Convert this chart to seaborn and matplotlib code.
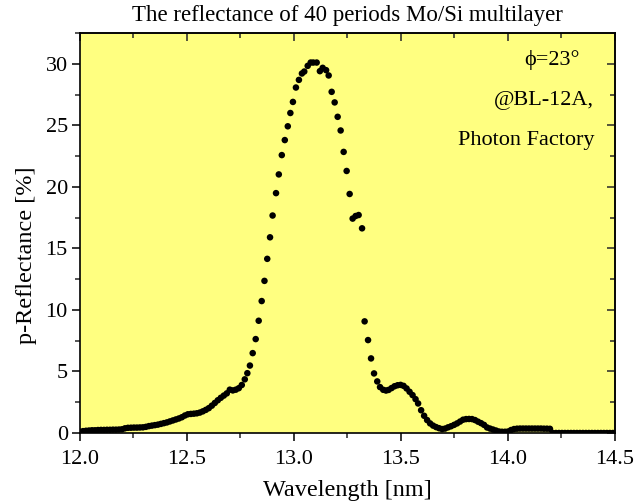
import matplotlib
matplotlib.use("Agg")
import matplotlib.pyplot as plt
import seaborn as sns
import pandas as pd
from matplotlib.ticker import MultipleLocator, FormatStrFormatter

# ---- data ----
wavelength = [
    12.000, 12.014, 12.028, 12.042, 12.056, 12.070, 12.084, 12.098, 12.112, 12.126,
    12.140, 12.154, 12.168, 12.182, 12.196, 12.210, 12.224, 12.238, 12.252, 12.266,
    12.280, 12.294, 12.308, 12.322, 12.336, 12.350, 12.364, 12.378, 12.392, 12.406,
    12.420, 12.434, 12.448, 12.462, 12.476, 12.490, 12.504, 12.518, 12.532, 12.546,
    12.560, 12.574, 12.588, 12.602, 12.616, 12.630, 12.644, 12.658, 12.672, 12.686,
    12.700, 12.714, 12.728, 12.742, 12.756, 12.770, 12.782, 12.794, 12.807, 12.821,
    12.835, 12.849, 12.862, 12.875,
    12.888, 12.900, 12.916, 12.929, 12.943, 12.957, 12.971, 12.983, 12.995, 13.009,
    13.023, 13.037, 13.048, 13.064, 13.078, 13.090, 13.106, 13.121, 13.134, 13.150,
    13.162, 13.176, 13.190, 13.204, 13.218, 13.232, 13.246, 13.260, 13.274, 13.288,
    13.302, 13.318,
    13.330, 13.346, 13.360, 13.374, 13.389, 13.402, 13.417, 13.430, 13.442, 13.456,
    13.470, 13.484, 13.498, 13.512, 13.526, 13.540, 13.554, 13.568, 13.580, 13.594,
    13.608, 13.622, 13.636, 13.650, 13.664, 13.678, 13.692, 13.706, 13.720, 13.734,
    13.748, 13.762, 13.776, 13.790, 13.804, 13.818, 13.832, 13.846, 13.860, 13.874,
    13.888, 13.902, 13.916, 13.930, 13.944, 13.958, 13.972, 13.986, 14.000, 14.014,
    14.028, 14.042, 14.056, 14.070, 14.084, 14.098, 14.112, 14.126, 14.140, 14.154,
    14.168, 14.182, 14.196,
    14.210, 14.224, 14.238, 14.252, 14.266, 14.280, 14.294, 14.308, 14.322, 14.336,
    14.350, 14.364, 14.378, 14.392, 14.406, 14.420, 14.434, 14.448, 14.462, 14.476,
    14.490,
]
reflectance = [
    0.10, 0.15, 0.18, 0.20, 0.22, 0.22, 0.24, 0.25, 0.25, 0.26,
    0.26, 0.27, 0.27, 0.28, 0.30, 0.38, 0.42, 0.43, 0.44, 0.44,
    0.45, 0.46, 0.50, 0.56, 0.60, 0.64, 0.68, 0.74, 0.80, 0.86,
    0.94, 1.02, 1.10, 1.18, 1.28, 1.42, 1.52, 1.55, 1.57, 1.60,
    1.66, 1.76, 1.88, 2.02, 2.22, 2.44, 2.66, 2.86, 3.04, 3.22,
    3.52, 3.46, 3.52, 3.64, 3.90, 4.36, 4.86, 5.48, 6.49, 7.63,
    9.12, 10.72, 12.36, 14.15,
    15.90, 17.67, 19.49, 21.01, 22.58, 23.80, 24.92, 26.00, 26.90, 28.07,
    28.69, 29.21, 29.37, 29.83, 30.10, 30.10, 30.10, 29.40, 29.67, 29.48,
    29.05, 27.72, 26.86, 25.69, 24.58, 22.84, 21.29, 19.42, 17.42, 17.63,
    17.71, 16.63,
    9.07, 7.55, 6.06, 4.84, 4.19, 3.73, 3.51, 3.45, 3.50, 3.65,
    3.80, 3.88, 3.91, 3.83, 3.62, 3.35, 3.08, 2.75, 2.40, 1.85,
    1.40, 1.05, 0.78, 0.60, 0.48, 0.39, 0.32, 0.36, 0.46, 0.55,
    0.66, 0.78, 0.93, 1.08, 1.13, 1.14, 1.13, 1.05, 0.92, 0.80,
    0.66, 0.45, 0.36, 0.28, 0.20, 0.12, 0.10, 0.10, 0.12, 0.24,
    0.32, 0.35, 0.36, 0.36, 0.36, 0.36, 0.36, 0.36, 0.36, 0.36,
    0.35, 0.35, 0.34,
    0.00, 0.00, 0.00, 0.00, 0.00, 0.00, 0.00, 0.00, 0.00, 0.00,
    0.00, 0.00, 0.00, 0.00, 0.00, 0.00, 0.00, 0.00, 0.00, 0.00,
    0.00,
]
title = "The reflectance of 40 periods Mo/Si multilayer"
xlabel = "Wavelength [nm]"
ylabel = "p-Reflectance [%]"
notes = ["\u03d5=23\u00b0", "@BL-12A,", "Photon Factory"]

df = pd.DataFrame({"Wavelength": wavelength, "Reflectance": reflectance})

sns.set_theme(style="ticks")
plt.rcParams["font.family"] = ["Liberation Serif", "DejaVu Serif"]

fig = plt.figure(figsize=(6.36, 5.03), dpi=100)
fig.patch.set_facecolor("white")
ax = fig.add_axes([80 / 636, 1 - 433 / 503, 535 / 636, 400 / 503])
ax.set_facecolor("#FFFF80")

sns.scatterplot(data=df, x="Wavelength", y="Reflectance", ax=ax,
                color="black", s=22, edgecolor="none", linewidth=0, legend=False)

ax.set_xlim(12.0, 14.5)
ax.set_ylim(0, 32.5)

ax.xaxis.set_major_locator(MultipleLocator(0.5))
ax.xaxis.set_minor_locator(MultipleLocator(0.25))
ax.xaxis.set_major_formatter(FormatStrFormatter("%.1f"))
ax.yaxis.set_major_locator(MultipleLocator(5))
ax.yaxis.set_minor_locator(MultipleLocator(2.5))
ax.yaxis.set_major_formatter(FormatStrFormatter("%d"))

for sp in ax.spines.values():
    sp.set_visible(True)
    sp.set_linewidth(1.2)
    sp.set_color("black")

ax.tick_params(which="major", direction="out", length=5.8, width=1.1,
               labelsize=16, colors="black")
ax.tick_params(which="minor", direction="out", length=3.6, width=1.1)
ax.tick_params(axis="x", which="major", pad=6.5)
ax.tick_params(axis="y", which="major", pad=3)

# inward ticks on top and right
top = ax.secondary_xaxis("top")
top.xaxis.set_major_locator(MultipleLocator(0.5))
top.xaxis.set_minor_locator(MultipleLocator(0.25))
top.tick_params(which="major", direction="in", length=5.8, width=1.1, labeltop=False)
top.tick_params(which="minor", direction="in", length=3.6, width=1.1)
top.spines["top"].set_linewidth(1.2)
right = ax.secondary_yaxis("right")
right.yaxis.set_major_locator(MultipleLocator(5))
right.yaxis.set_minor_locator(MultipleLocator(2.5))
right.tick_params(which="major", direction="in", length=5.8, width=1.1, labelright=False)
right.tick_params(which="minor", direction="in", length=3.6, width=1.1)
right.spines["right"].set_linewidth(1.2)

ax.set_xlabel(xlabel, fontsize=17.5, color="black")
ax.set_ylabel(ylabel, fontsize=17.5, color="black")
ax.xaxis.set_label_coords(0.5, -0.118)
ax.yaxis.set_label_coords(-0.08, 0.445)

fig.text(347.5 / 636, 1 - 16 / 503, title, ha="center", va="center",
         fontsize=16.5, color="black")

note_x = [580, 594, 594]
note_y = [60, 101, 140]
for txt, xp, yp in zip(notes, note_x, note_y):
    fig.text(xp / 636, 1 - yp / 503, txt, ha="right", va="center", fontsize=16,
             color="black")

fig.savefig("out.png", dpi=100, facecolor="white")
